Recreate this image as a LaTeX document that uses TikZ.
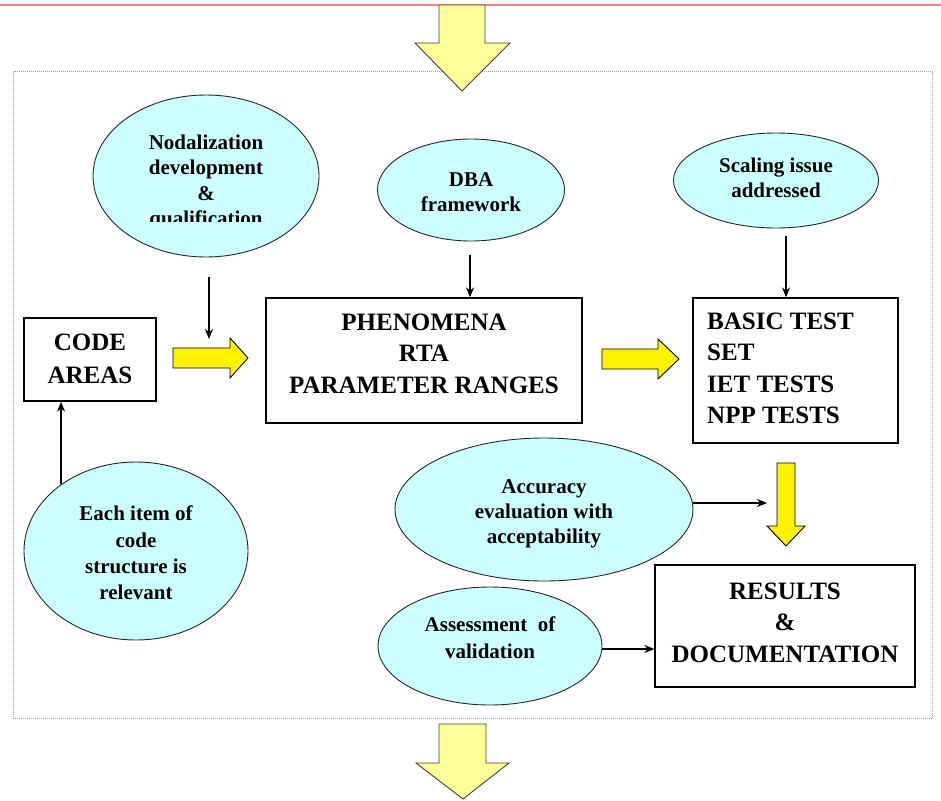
\documentclass[tikz,border=0pt]{standalone}
\usepackage{fontspec}
\setmainfont{Liberation Serif}
\usetikzlibrary{shapes.geometric,arrows.meta}
\definecolor{cyanlight}{HTML}{CCFFFF}
\definecolor{paleyellow}{HTML}{FFFF99}
\definecolor{redline}{HTML}{FF8080}
\definecolor{bordergray}{HTML}{A0A0A0}
\begin{document}
\begin{tikzpicture}[x=1pt,y=-1pt,
  oval/.style={draw=black!85, fill=cyanlight, ellipse, line width=0.9pt, inner sep=0pt},
  box/.style={draw=black, line width=1.3pt, fill=white, inner sep=0pt},
  smalltxt/.style={font=\bfseries\fontsize{21}{25.5}\selectfont, align=center, inner sep=0pt},
  bigtxt/.style={font=\bfseries\fontsize{25}{31.5}\selectfont, align=center, inner sep=0pt},
  conn/.style={-{Stealth[length=10pt,width=8pt]}, line width=1.1pt},
  yarrow/.style={fill=yellow, draw=black, line width=0.9pt, line join=miter},
  bigarrow/.style={fill=paleyellow, draw=black!75, line width=0.9pt, line join=miter}]
\useasboundingbox (0,0) rectangle (941,800);
% top red line
\draw[redline, line width=2pt] (0,5) -- (941,5);
% dotted frame
\draw[bordergray, line width=1pt, dash pattern=on 1pt off 1pt] (13.5,71.5) rectangle (932,718.5);
% big in/out arrows
\draw[bigarrow] (439,5) -- (485,5) -- (485,43) -- (510,43) -- (462,91) -- (415,43) -- (439,43) -- cycle;
\draw[bigarrow] (439,724) -- (486,724) -- (486,763) -- (509,763) -- (463,799) -- (416,763) -- (439,763) -- cycle;

% ellipses
\node[oval, minimum width=226pt, minimum height=162pt] (nodal) at (206,176) {};
\begin{scope}
  \clip (0,0) rectangle (941,221);
  \node[smalltxt] (nodalt) at (206,182.5) {Nodalization\\development\\\&\\qualification};
\end{scope}
\node[oval, minimum width=187pt, minimum height=102pt] (dba) at (471,190) {};
\node[smalltxt] (dbat) at (471,192) {DBA\\framework};
\node[oval, minimum width=205pt, minimum height=95pt] (scal) at (776,180.5) {};
\node[smalltxt] (scalt) at (776,178) {Scaling issue\\addressed};
\node[oval, minimum width=298pt, minimum height=143pt] (acc) at (544,509.5) {};
\node[smalltxt, font=\bfseries\fontsize{21}{25}\selectfont] (acct) at (544,514) {Accuracy\\evaluation with\\acceptability};
\node[oval, minimum width=224pt, minimum height=118pt] (assess) at (490,646) {};
\node[smalltxt, font=\bfseries\fontsize{21}{27}\selectfont] (assesst) at (490,638) {Assessment~~of\\validation};
\node[oval, minimum width=224pt, minimum height=178pt] (each) at (136,551) {};
\node[smalltxt, font=\bfseries\fontsize{21}{26.3}\selectfont] (eacht) at (136,553) {Each item of\\code\\structure is\\relevant};

% boxes
\node[box, minimum width=132pt, minimum height=83pt] (code) at (90,359.5) {};
\node[bigtxt, font=\bfseries\fontsize{25}{33}\selectfont] (codet) at (90,358.5) {CODE\\AREAS};
\node[box, minimum width=316pt, minimum height=125pt] (phen) at (424,360.5) {};
\node[bigtxt] (phent) at (424,353.5) {PHENOMENA\\RTA\\PARAMETER RANGES};
\node[box, minimum width=205pt, minimum height=145pt] (basic) at (795.5,370.5) {};
\node[bigtxt, align=left, anchor=west] (basict) at (707,368.5) {BASIC TEST\\SET\\IET TESTS\\NPP TESTS};
\node[box, minimum width=260pt, minimum height=122pt] (results) at (785,626) {};
\node[bigtxt] (resultst) at (785,622.5) {RESULTS\\\&\\DOCUMENTATION};

% yellow block arrows
\draw[yarrow] (173,348) -- (230,348) -- (230,338) -- (248,358) -- (230,378) -- (230,368) -- (173,368) -- cycle;
\draw[yarrow] (602,349) -- (658,349) -- (658,339) -- (679,359) -- (658,379) -- (658,369) -- (602,369) -- cycle;
\draw[yarrow] (777,463) -- (795,463) -- (795,526) -- (805,526) -- (786,546) -- (767,526) -- (777,526) -- cycle;

% connectors
\coordinate (n1) at (209,277);
\coordinate (n2) at (209,339);
\draw[conn] (n1) -- (n2);
\coordinate (d1) at (470,255);
\draw[conn] (d1) -- (d1 |- phen.north);
\coordinate (s1) at (786,236);
\draw[conn] (s1) -- (s1 |- basic.north);
\coordinate (e1) at (61,484);
\draw[conn] (e1) -- (e1 |- code.south);
\coordinate (a1) at (693,503);
\coordinate (a2) at (767,503);
\draw[conn] (a1) -- (a2);
\coordinate (v1) at (602,649);
\draw[conn] (v1) -- (v1 -| results.west);
\end{tikzpicture}
\end{document}
